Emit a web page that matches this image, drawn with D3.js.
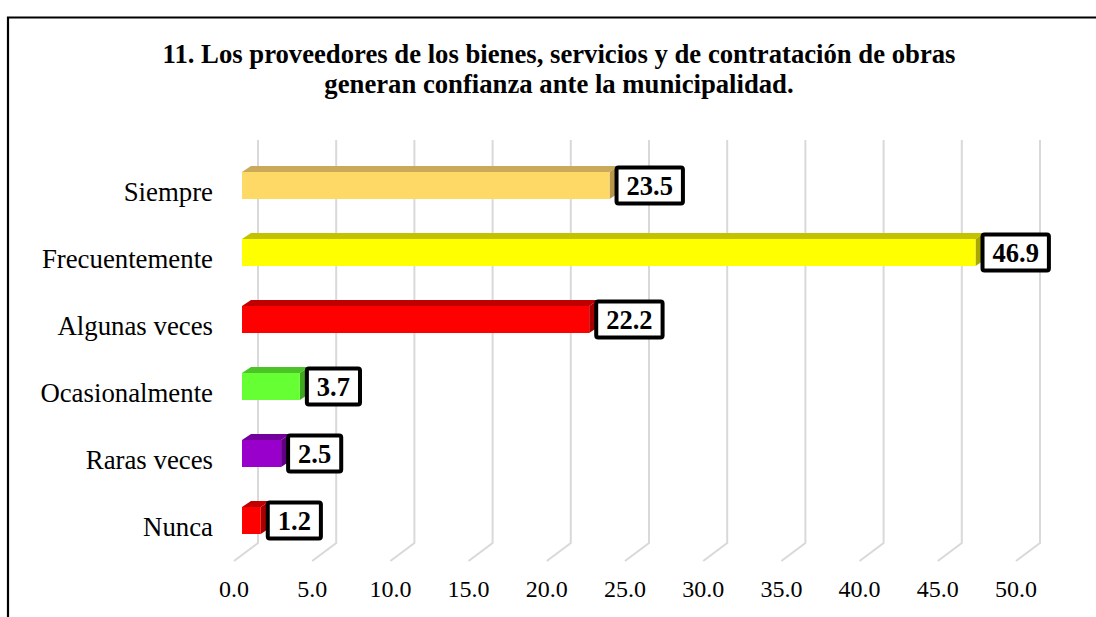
<!DOCTYPE html>
<html>
<head>
<meta charset="utf-8">
<script src="https://cdn.jsdelivr.net/npm/d3@7/dist/d3.min.js"></script>
<style>
  html, body { margin: 0; padding: 0; background: #fff; }
  svg { display: block; font-family: "Liberation Serif", "Times New Roman", serif; }
</style>
</head>
<body>
<svg id="chart" width="1096" height="617"></svg>
<script>
// Survey answers (percent)
const categories = ["Siempre", "Frecuentemente", "Algunas veces", "Ocasionalmente", "Raras veces", "Nunca"];
const values = [23.5, 46.9, 22.2, 3.7, 2.5, 1.2];
const tickValues = [0, 5, 10, 15, 20, 25, 30, 35, 40, 45, 50];
const titleLines = [
  "11. Los proveedores de los bienes, servicios y de contratación de obras",
  "generan confianza ante la municipalidad."
];

// Face colours per category: front, top, side
const palette = {
  "Siempre":        ["#ffd966", "#c9a95a", "#b8964a"],
  "Frecuentemente": ["#ffff00", "#c2c200", "#a8a800"],
  "Algunas veces":  ["#ff0000", "#c00000", "#a80000"],
  "Ocasionalmente": ["#66ff33", "#4cc428", "#3fa820"],
  "Raras veces":    ["#9900cc", "#73009a", "#620085"],
  "Nunca":          ["#ff0000", "#c00000", "#a80000"]
};

const svg = d3.select("#chart");

// Outer chart frame
svg.append("path")
  .attr("d", "M8,617 L8,17.5 L1096,17.5")
  .attr("fill", "none").attr("stroke", "#000").attr("stroke-width", 2.2);

// Front plane of the 3D plot area
const x = d3.scaleLinear().domain([0, 50]).range([234, 1016]);
const y = d3.scaleBand().domain(categories).range([158, 560]).padding(0);

// Depth of the floor (back wall offset) and of each bar
const wallDX = 24, wallDY = -18;
const barOffX = 8, barOffY = -6;
const barDX = 9, barDY = -6;
const barH = 27;
const floorY = 561;
const wallTop = y.range()[0] + wallDY;

// Gridlines: up the back wall, then diagonally across the floor
svg.append("g").selectAll("path")
  .data(tickValues)
  .join("path")
  .attr("d", t => {
    const xb = x(t) + wallDX;
    return `M${xb},${wallTop} L${xb},${floorY + wallDY} L${x(t)},${floorY}`;
  })
  .attr("fill", "none")
  .attr("stroke", "#d9d9d9")
  .attr("stroke-width", 2);

// Tick labels along the front edge of the floor
svg.append("g").selectAll("text")
  .data(tickValues)
  .join("text")
  .attr("x", t => x(t))
  .attr("y", 597)
  .attr("text-anchor", "middle")
  .attr("font-size", 24)
  .attr("fill", "#000")
  .text(t => d3.format(".1f")(t));

// Category labels
svg.append("g").selectAll("text")
  .data(categories)
  .join("text")
  .attr("x", 213)
  .attr("y", c => y(c) + y.bandwidth() / 2 + 9)
  .attr("text-anchor", "end")
  .attr("font-size", 26.8)
  .attr("fill", "#000")
  .text(c => c);

// 3D bars
const rows = categories.map((c, i) => ({ cat: c, value: values[i] }));
const bars = svg.append("g").selectAll("g")
  .data(rows)
  .join("g");

function geom(d) {
  const x0 = x(0) + barOffX;
  const x1 = x(d.value) + barOffX;
  const cy = y(d.cat) + y.bandwidth() / 2 + barOffY;
  return { x0, x1, yt: cy - barH / 2, yb: cy + barH / 2, cy };
}

bars.append("path") // top face
  .attr("d", d => {
    const g = geom(d);
    return `M${g.x0},${g.yt} L${g.x1},${g.yt} L${g.x1 + barDX},${g.yt + barDY} L${g.x0 + barDX},${g.yt + barDY} Z`;
  })
  .attr("fill", d => palette[d.cat][1]);

bars.append("path") // right side face
  .attr("d", d => {
    const g = geom(d);
    return `M${g.x1},${g.yt} L${g.x1 + barDX},${g.yt + barDY} L${g.x1 + barDX},${g.yb + barDY} L${g.x1},${g.yb} Z`;
  })
  .attr("fill", d => palette[d.cat][2]);

bars.append("rect") // front face
  .attr("x", d => geom(d).x0)
  .attr("y", d => geom(d).yt)
  .attr("width", d => geom(d).x1 - geom(d).x0)
  .attr("height", barH)
  .attr("fill", d => palette[d.cat][0]);

// Value labels in framed boxes
const labels = svg.append("g").selectAll("g")
  .data(rows)
  .join("g");

labels.each(function (d) {
  const g = geom(d);
  const grp = d3.select(this);
  const txt = grp.append("text")
    .attr("font-size", 26.5)
    .attr("font-weight", "bold")
    .attr("fill", "#000")
    .attr("text-anchor", "middle")
    .text(d3.format(".1f")(d.value));
  const w = txt.node().getComputedTextLength();
  const boxW = w + 20, boxH = 36;
  const bx = g.x1 + 7;
  grp.insert("rect", "text")
    .attr("x", bx)
    .attr("y", g.cy - boxH / 2)
    .attr("width", boxW)
    .attr("height", boxH)
    .attr("fill", "#fff")
    .attr("stroke", "#000")
    .attr("stroke-width", 4)
    .attr("rx", 2);
  txt.attr("x", bx + boxW / 2).attr("y", g.cy + 9);
});

// Title
svg.append("g").selectAll("text")
  .data(titleLines)
  .join("text")
  .attr("x", 559)
  .attr("y", (d, i) => 63 + i * 29.5)
  .attr("text-anchor", "middle")
  .attr("font-size", 26.7)
  .attr("font-weight", "bold")
  .attr("fill", "#000")
  .text(d => d);
</script>
</body>
</html>
